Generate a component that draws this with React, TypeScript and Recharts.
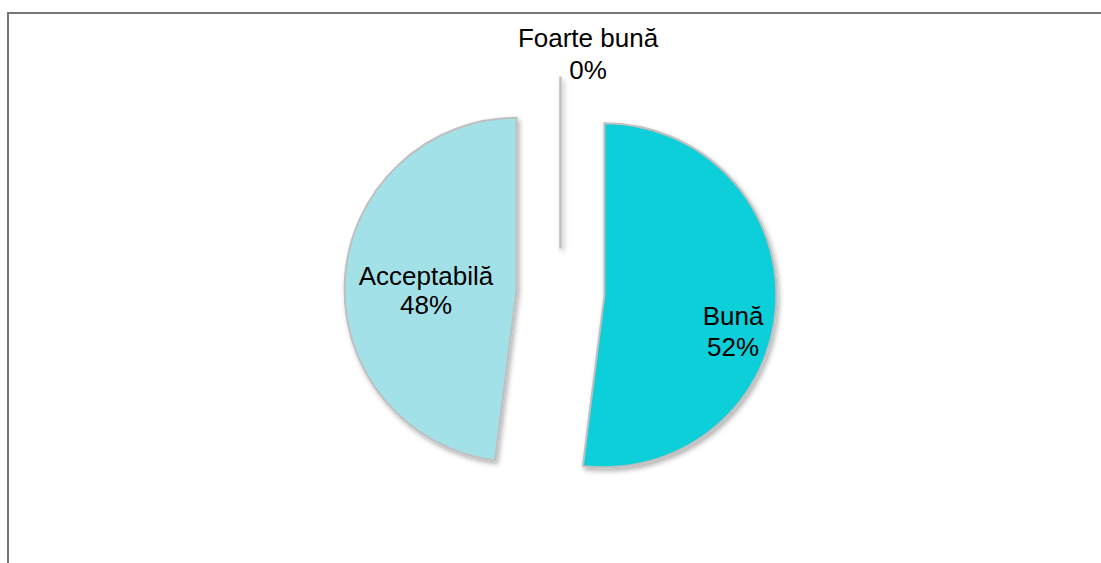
import { Cell, Pie, PieChart } from "recharts";

// data
const categories = ["Foarte bună", "Bună", "Acceptabilă"];
const shares = [0, 52, 48];

const sliceColors = ["#5FC9D4", "#0CCFD9", "#A3E1E8"];

// label placement relative to each (exploded) slice centre: [dx, baseline1, baseline2]
const labelOffsets: [number, number, number][] = [
  [27.5, -201.5, -169.5],
  [128.6, 29.7, 60.7],
  [-90.6, -4.7, 24.3],
];

const W = 1101;
const H = 563;
const CX = 560.5;
const CY = 292.5;
const RADIUS = 172;
const EXPLODE = 44;
const RAD = Math.PI / 180;
const EDGE = "#BFBFBF";

const total = shares.reduce((a, b) => a + b, 0);
let acc = 0;
const midAngles = shares.map((v) => {
  const m = 90 - ((acc + v / 2) / total) * 360;
  acc += v;
  return m;
});

const tableData = categories.map((name, i) => ({ name, value: shares[i] }));

const renderLabel = (slice: number) => (props: any) => {
  if (props.index !== slice) return null;
  const [dx, b1, b2] = labelOffsets[slice];
  const x = props.cx + dx;
  const pct = Math.round((props.value / total) * 100);
  // recharts skips zero-angle sectors, excel draws them as a single edge
  const zero = props.value === 0;
  const ex = props.cx + props.outerRadius * Math.cos(props.midAngle * RAD);
  const ey = props.cy - props.outerRadius * Math.sin(props.midAngle * RAD);
  return (
    <g>
      {zero && (
        <line
          x1={props.cx}
          y1={props.cy}
          x2={ex}
          y2={ey}
          stroke={EDGE}
          strokeWidth={2.5}
          filter="url(#sliceShadow)"
        />
      )}
      <text x={x} y={props.cy + b1} textAnchor="middle" fill="#000" fontSize={26}>
        {props.name}
      </text>
      <text x={x} y={props.cy + b2} textAnchor="middle" fill="#000" fontSize={26}>
        {pct}%
      </text>
    </g>
  );
};

export default function App() {
  return (
    <div
      style={{
        position: "fixed",
        left: 0,
        top: 0,
        width: W,
        height: H,
        overflow: "hidden",
        background: "#fff",
        fontFamily: '"Liberation Sans", Arial, sans-serif',
      }}
    >
      <div
        style={{
          position: "absolute",
          left: 7,
          top: 12,
          width: 1100,
          height: 600,
          border: "2px solid #767676",
        }}
      />
      <div style={{ position: "absolute", left: 0, top: 0 }}>
        <PieChart width={W} height={H} margin={{ top: 0, right: 0, bottom: 0, left: 0 }}>
          <defs>
            <filter
              id="sliceShadow"
              filterUnits="userSpaceOnUse"
              x="0"
              y="0"
              width={W}
              height={H}
            >
              <feDropShadow dx="2" dy="3" stdDeviation="2.5" floodColor="#000" floodOpacity="0.3" />
            </filter>
          </defs>
          {categories.map((cat, i) => (
            <Pie
              key={cat}
              data={tableData}
              dataKey="value"
              nameKey="name"
              cx={CX + EXPLODE * Math.cos(midAngles[i] * RAD)}
              cy={CY - EXPLODE * Math.sin(midAngles[i] * RAD)}
              outerRadius={RADIUS}
              startAngle={90}
              endAngle={-270}
              isAnimationActive={false}
              labelLine={false}
              label={renderLabel(i)}
            >
              {tableData.map((d, j) => (
                <Cell
                  key={d.name}
                  fill={j === i ? sliceColors[j] : "none"}
                  stroke={j === i ? EDGE : "none"}
                  strokeWidth={2}
                  filter={j === i ? "url(#sliceShadow)" : undefined}
                />
              ))}
            </Pie>
          ))}
        </PieChart>
      </div>
    </div>
  );
}
